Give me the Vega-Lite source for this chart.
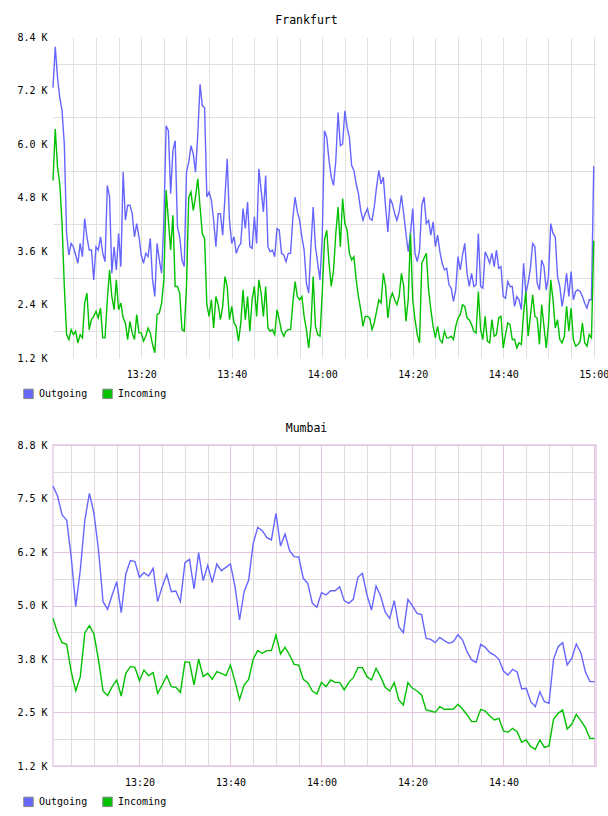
{
  "$schema": "https://vega.github.io/schema/vega-lite/v6.json",
  "background": "white",
  "padding": {"left": 15, "top": 14, "right": 0, "bottom": 8},
  "spacing": 20,
  "config": {
    "font": "DejaVu Sans Mono",
    "title": {"font": "DejaVu Sans Mono", "fontSize": 11.5, "fontWeight": "normal", "color": "#000000", "anchor": "middle", "baseline": "alphabetic", "offset": 6, "dx": -18},
    "axis": {"labelFont": "DejaVu Sans Mono", "labelFontSize": 10, "labelColor": "#000000", "ticks": false, "tickSize": 0, "domain": false, "title": null, "labelFlush": false, "labelOverlap": false, "gridWidth": 1},
    "axisY": {"labelPadding": 6},
    "axisX": {"labelPadding": 11},
    "line": {"strokeWidth": 1.4, "interpolate": "linear"}
  },
  "resolve": {"scale": {"x": "independent", "y": "independent", "color": "independent", "stroke": "independent"}, "legend": {"color": "independent"}},
  "vconcat": [
    {
      "title": {"text": "Frankfurt"},
      "width": 543,
      "height": 321,
      "view": {"stroke": null},
      "data": {
        "format": {"parse": {"t": "date:'%H:%M:%S'"}},
        "values": [
          {"t":"13:00:30","Outgoing":7264,"Incoming":5183},{"t":"13:01:00","Outgoing":8179,"Incoming":6335},{"t":"13:01:30","Outgoing":7487,"Incoming":5480},{"t":"13:02:00","Outgoing":7041,"Incoming":5108},
          {"t":"13:02:30","Outgoing":6744,"Incoming":4216},{"t":"13:03:00","Outgoing":6000,"Incoming":2804},{"t":"13:03:30","Outgoing":3993,"Incoming":1725},{"t":"13:04:00","Outgoing":3510,"Incoming":1614},
          {"t":"13:04:30","Outgoing":3770,"Incoming":1837},{"t":"13:05:00","Outgoing":3696,"Incoming":1725},{"t":"13:05:30","Outgoing":3510,"Incoming":1800},{"t":"13:06:00","Outgoing":3324,"Incoming":1540},
          {"t":"13:06:30","Outgoing":3770,"Incoming":1725},{"t":"13:07:00","Outgoing":3473,"Incoming":1651},{"t":"13:07:30","Outgoing":4328,"Incoming":2432},{"t":"13:08:00","Outgoing":3919,"Incoming":2655},
          {"t":"13:08:30","Outgoing":3621,"Incoming":1837},{"t":"13:09:00","Outgoing":3621,"Incoming":2060},{"t":"13:09:30","Outgoing":2952,"Incoming":2134},{"t":"13:10:00","Outgoing":3696,"Incoming":2246},
          {"t":"13:10:30","Outgoing":3621,"Incoming":2097},{"t":"13:11:00","Outgoing":3919,"Incoming":2320},{"t":"13:11:30","Outgoing":3547,"Incoming":1651},{"t":"13:12:00","Outgoing":3361,"Incoming":1651},
          {"t":"13:12:30","Outgoing":5071,"Incoming":2506},{"t":"13:13:00","Outgoing":4811,"Incoming":3175},{"t":"13:13:30","Outgoing":3101,"Incoming":2580},{"t":"13:14:00","Outgoing":3696,"Incoming":2283},
          {"t":"13:14:30","Outgoing":3175,"Incoming":2952},{"t":"13:15:00","Outgoing":3993,"Incoming":2283},{"t":"13:15:30","Outgoing":3250,"Incoming":2432},{"t":"13:16:00","Outgoing":5369,"Incoming":2097},
          {"t":"13:16:30","Outgoing":4290,"Incoming":1986},{"t":"13:17:00","Outgoing":4625,"Incoming":1614},{"t":"13:17:30","Outgoing":4625,"Incoming":2023},{"t":"13:18:00","Outgoing":4439,"Incoming":1763},
          {"t":"13:18:30","Outgoing":3919,"Incoming":1614},{"t":"13:19:00","Outgoing":4216,"Incoming":2172},{"t":"13:19:30","Outgoing":3919,"Incoming":1763},{"t":"13:20:00","Outgoing":3510,"Incoming":1763},
          {"t":"13:20:30","Outgoing":3324,"Incoming":1577},{"t":"13:21:00","Outgoing":3547,"Incoming":1688},{"t":"13:21:30","Outgoing":3473,"Incoming":1874},{"t":"13:22:00","Outgoing":3882,"Incoming":1763},
          {"t":"13:22:30","Outgoing":2952,"Incoming":1502},{"t":"13:23:00","Outgoing":2580,"Incoming":1317},{"t":"13:23:30","Outgoing":3770,"Incoming":2172},{"t":"13:24:00","Outgoing":3398,"Incoming":2209},
          {"t":"13:24:30","Outgoing":3101,"Incoming":2432},{"t":"13:25:00","Outgoing":4290,"Incoming":2952},{"t":"13:25:30","Outgoing":6409,"Incoming":4960},{"t":"13:26:00","Outgoing":6298,"Incoming":4290},
          {"t":"13:26:30","Outgoing":4885,"Incoming":3621},{"t":"13:27:00","Outgoing":5852,"Incoming":4402},{"t":"13:27:30","Outgoing":6075,"Incoming":2804},{"t":"13:28:00","Outgoing":4142,"Incoming":2804},
          {"t":"13:28:30","Outgoing":3919,"Incoming":2655},{"t":"13:29:00","Outgoing":3398,"Incoming":1837},{"t":"13:29:30","Outgoing":3250,"Incoming":1800},{"t":"13:30:00","Outgoing":5369,"Incoming":2804},
          {"t":"13:30:30","Outgoing":5592,"Incoming":4800},{"t":"13:31:00","Outgoing":5963,"Incoming":4922},{"t":"13:31:30","Outgoing":5777,"Incoming":4513},{"t":"13:32:00","Outgoing":5369,"Incoming":4811},
          {"t":"13:32:30","Outgoing":6224,"Incoming":5220},{"t":"13:33:00","Outgoing":7339,"Incoming":4588},{"t":"13:33:30","Outgoing":6856,"Incoming":3993},{"t":"13:34:00","Outgoing":6818,"Incoming":3882},
          {"t":"13:34:30","Outgoing":4811,"Incoming":2395},{"t":"13:35:00","Outgoing":4922,"Incoming":2134},{"t":"13:35:30","Outgoing":4737,"Incoming":2506},{"t":"13:36:00","Outgoing":4290,"Incoming":1874},
          {"t":"13:36:30","Outgoing":3696,"Incoming":2580},{"t":"13:37:00","Outgoing":4439,"Incoming":2395},{"t":"13:37:30","Outgoing":4439,"Incoming":2060},{"t":"13:38:00","Outgoing":3956,"Incoming":2357},
          {"t":"13:38:30","Outgoing":4811,"Incoming":3027},{"t":"13:39:00","Outgoing":5666,"Incoming":2804},{"t":"13:39:30","Outgoing":4290,"Incoming":2060},{"t":"13:40:00","Outgoing":3770,"Incoming":2357},
          {"t":"13:40:30","Outgoing":3919,"Incoming":1986},{"t":"13:41:00","Outgoing":3547,"Incoming":1911},{"t":"13:41:30","Outgoing":3696,"Incoming":1577},{"t":"13:42:00","Outgoing":3770,"Incoming":1986},
          {"t":"13:42:30","Outgoing":4551,"Incoming":2729},{"t":"13:43:00","Outgoing":4105,"Incoming":2060},{"t":"13:43:30","Outgoing":4699,"Incoming":2580},{"t":"13:44:00","Outgoing":3696,"Incoming":1800},
          {"t":"13:44:30","Outgoing":3658,"Incoming":2506},{"t":"13:45:00","Outgoing":4365,"Incoming":2804},{"t":"13:45:30","Outgoing":3770,"Incoming":2134},{"t":"13:46:00","Outgoing":5443,"Incoming":2952},
          {"t":"13:46:30","Outgoing":4960,"Incoming":2655},{"t":"13:47:00","Outgoing":4476,"Incoming":2134},{"t":"13:47:30","Outgoing":5294,"Incoming":2804},{"t":"13:48:00","Outgoing":3696,"Incoming":1874},
          {"t":"13:48:30","Outgoing":3584,"Incoming":1800},{"t":"13:49:00","Outgoing":3621,"Incoming":1837},{"t":"13:49:30","Outgoing":3473,"Incoming":1725},{"t":"13:50:00","Outgoing":4105,"Incoming":2283},
          {"t":"13:50:30","Outgoing":4067,"Incoming":2060},{"t":"13:51:00","Outgoing":3547,"Incoming":1800},{"t":"13:51:30","Outgoing":3510,"Incoming":1688},{"t":"13:52:00","Outgoing":3361,"Incoming":1800},
          {"t":"13:52:30","Outgoing":3547,"Incoming":1837},{"t":"13:53:00","Outgoing":3547,"Incoming":1837},{"t":"13:53:30","Outgoing":4328,"Incoming":2432},{"t":"13:54:00","Outgoing":4811,"Incoming":2915},
          {"t":"13:54:30","Outgoing":4476,"Incoming":2580},{"t":"13:55:00","Outgoing":4290,"Incoming":2506},{"t":"13:55:30","Outgoing":3919,"Incoming":2580},{"t":"13:56:00","Outgoing":3621,"Incoming":2134},
          {"t":"13:56:30","Outgoing":2878,"Incoming":1837},{"t":"13:57:00","Outgoing":2655,"Incoming":1428},{"t":"13:57:30","Outgoing":3696,"Incoming":1911},{"t":"13:58:00","Outgoing":4588,"Incoming":3027},
          {"t":"13:58:30","Outgoing":3696,"Incoming":1911},{"t":"13:59:00","Outgoing":3324,"Incoming":1725},{"t":"13:59:30","Outgoing":2952,"Incoming":1688},{"t":"14:00:00","Outgoing":3919,"Incoming":2655},
          {"t":"14:00:30","Outgoing":6298,"Incoming":3845},{"t":"14:01:00","Outgoing":6149,"Incoming":4067},{"t":"14:01:30","Outgoing":5629,"Incoming":3324},{"t":"14:02:00","Outgoing":5257,"Incoming":2804},
          {"t":"14:02:30","Outgoing":5071,"Incoming":3175},{"t":"14:03:00","Outgoing":5629,"Incoming":3993},{"t":"14:03:30","Outgoing":6707,"Incoming":4588},{"t":"14:04:00","Outgoing":5963,"Incoming":3696},
          {"t":"14:04:30","Outgoing":6000,"Incoming":4774},{"t":"14:05:00","Outgoing":6744,"Incoming":4216},{"t":"14:05:30","Outgoing":6372,"Incoming":4067},{"t":"14:06:00","Outgoing":6149,"Incoming":3547},
          {"t":"14:06:30","Outgoing":5517,"Incoming":3398},{"t":"14:07:00","Outgoing":5406,"Incoming":3473},{"t":"14:07:30","Outgoing":5108,"Incoming":2952},{"t":"14:08:00","Outgoing":4885,"Incoming":2580},
          {"t":"14:08:30","Outgoing":4513,"Incoming":2283},{"t":"14:09:00","Outgoing":4290,"Incoming":1911},{"t":"14:09:30","Outgoing":4439,"Incoming":2134},{"t":"14:10:00","Outgoing":4551,"Incoming":2134},
          {"t":"14:10:30","Outgoing":4328,"Incoming":2097},{"t":"14:11:00","Outgoing":4290,"Incoming":1837},{"t":"14:11:30","Outgoing":4588,"Incoming":1986},{"t":"14:12:00","Outgoing":5034,"Incoming":2246},
          {"t":"14:12:30","Outgoing":5406,"Incoming":2506},{"t":"14:13:00","Outgoing":5108,"Incoming":2432},{"t":"14:13:30","Outgoing":5257,"Incoming":3101},{"t":"14:14:00","Outgoing":4588,"Incoming":2804},
          {"t":"14:14:30","Outgoing":4030,"Incoming":2097},{"t":"14:15:00","Outgoing":4774,"Incoming":2506},{"t":"14:15:30","Outgoing":4662,"Incoming":2655},{"t":"14:16:00","Outgoing":4439,"Incoming":2506},
          {"t":"14:16:30","Outgoing":4290,"Incoming":2395},{"t":"14:17:00","Outgoing":4476,"Incoming":2580},{"t":"14:17:30","Outgoing":4848,"Incoming":3101},{"t":"14:18:00","Outgoing":4439,"Incoming":2804},
          {"t":"14:18:30","Outgoing":3993,"Incoming":2023},{"t":"14:19:00","Outgoing":3584,"Incoming":2506},{"t":"14:19:30","Outgoing":3993,"Incoming":3993},{"t":"14:20:00","Outgoing":4551,"Incoming":2506},
          {"t":"14:20:30","Outgoing":3547,"Incoming":2060},{"t":"14:21:00","Outgoing":3361,"Incoming":1725},{"t":"14:21:30","Outgoing":3621,"Incoming":1540},{"t":"14:22:00","Outgoing":4625,"Incoming":3324},
          {"t":"14:22:30","Outgoing":4811,"Incoming":3436},{"t":"14:23:00","Outgoing":4216,"Incoming":3547},{"t":"14:23:30","Outgoing":4290,"Incoming":2729},{"t":"14:24:00","Outgoing":3956,"Incoming":2283},
          {"t":"14:24:30","Outgoing":4253,"Incoming":1911},{"t":"14:25:00","Outgoing":3696,"Incoming":1651},{"t":"14:25:30","Outgoing":3956,"Incoming":1911},{"t":"14:26:00","Outgoing":3584,"Incoming":1614},
          {"t":"14:26:30","Outgoing":3324,"Incoming":1540},{"t":"14:27:00","Outgoing":3175,"Incoming":1800},{"t":"14:27:30","Outgoing":3212,"Incoming":1651},{"t":"14:28:00","Outgoing":2841,"Incoming":1651},
          {"t":"14:28:30","Outgoing":2766,"Incoming":1688},{"t":"14:29:00","Outgoing":2469,"Incoming":1614},{"t":"14:29:30","Outgoing":2729,"Incoming":1911},{"t":"14:30:00","Outgoing":3473,"Incoming":2097},
          {"t":"14:30:30","Outgoing":3175,"Incoming":2172},{"t":"14:31:00","Outgoing":3510,"Incoming":2395},{"t":"14:31:30","Outgoing":3770,"Incoming":2357},{"t":"14:32:00","Outgoing":3101,"Incoming":2097},
          {"t":"14:32:30","Outgoing":2804,"Incoming":2060},{"t":"14:33:00","Outgoing":3101,"Incoming":1949},{"t":"14:33:30","Outgoing":2804,"Incoming":1800},{"t":"14:34:00","Outgoing":2841,"Incoming":1763},
          {"t":"14:34:30","Outgoing":3993,"Incoming":2692},{"t":"14:35:00","Outgoing":2804,"Incoming":1837},{"t":"14:35:30","Outgoing":2766,"Incoming":1614},{"t":"14:36:00","Outgoing":3584,"Incoming":2134},
          {"t":"14:36:30","Outgoing":3473,"Incoming":1577},{"t":"14:37:00","Outgoing":3324,"Incoming":1540},{"t":"14:37:30","Outgoing":3547,"Incoming":2060},{"t":"14:38:00","Outgoing":3250,"Incoming":1688},
          {"t":"14:38:30","Outgoing":3621,"Incoming":1725},{"t":"14:39:00","Outgoing":3212,"Incoming":2097},{"t":"14:39:30","Outgoing":3250,"Incoming":2134},{"t":"14:40:00","Outgoing":2580,"Incoming":1428},
          {"t":"14:40:30","Outgoing":2543,"Incoming":1725},{"t":"14:41:00","Outgoing":2915,"Incoming":1986},{"t":"14:41:30","Outgoing":2804,"Incoming":1949},{"t":"14:42:00","Outgoing":2804,"Incoming":1614},
          {"t":"14:42:30","Outgoing":2357,"Incoming":1614},{"t":"14:43:00","Outgoing":2580,"Incoming":1428},{"t":"14:43:30","Outgoing":2506,"Incoming":1540},{"t":"14:44:00","Outgoing":2283,"Incoming":1502},
          {"t":"14:44:30","Outgoing":3324,"Incoming":2209},{"t":"14:45:00","Outgoing":2655,"Incoming":2692},{"t":"14:45:30","Outgoing":2878,"Incoming":1688},{"t":"14:46:00","Outgoing":3212,"Incoming":2134},
          {"t":"14:46:30","Outgoing":3770,"Incoming":2618},{"t":"14:47:00","Outgoing":3696,"Incoming":2134},{"t":"14:47:30","Outgoing":2878,"Incoming":2097},{"t":"14:48:00","Outgoing":2729,"Incoming":1502},
          {"t":"14:48:30","Outgoing":3398,"Incoming":2395},{"t":"14:49:00","Outgoing":3250,"Incoming":1911},{"t":"14:49:30","Outgoing":2729,"Incoming":1428},{"t":"14:50:00","Outgoing":3027,"Incoming":1949},
          {"t":"14:50:30","Outgoing":4216,"Incoming":2952},{"t":"14:51:00","Outgoing":3993,"Incoming":2506},{"t":"14:51:30","Outgoing":3919,"Incoming":1874},{"t":"14:52:00","Outgoing":3027,"Incoming":2060},
          {"t":"14:52:30","Outgoing":2804,"Incoming":1614},{"t":"14:53:00","Outgoing":2357,"Incoming":1540},{"t":"14:53:30","Outgoing":2655,"Incoming":1688},{"t":"14:54:00","Outgoing":3101,"Incoming":2357},
          {"t":"14:54:30","Outgoing":2580,"Incoming":1800},{"t":"14:55:00","Outgoing":3138,"Incoming":2320},{"t":"14:55:30","Outgoing":2506,"Incoming":1614},{"t":"14:56:00","Outgoing":2692,"Incoming":1465},
          {"t":"14:56:30","Outgoing":2729,"Incoming":1502},{"t":"14:57:00","Outgoing":2692,"Incoming":1577},{"t":"14:57:30","Outgoing":2580,"Incoming":1986},{"t":"14:58:00","Outgoing":2432,"Incoming":1540},
          {"t":"14:58:30","Outgoing":2320,"Incoming":1465},{"t":"14:59:00","Outgoing":2506,"Incoming":1725},{"t":"14:59:30","Outgoing":2506,"Incoming":1651},{"t":"15:00:00","Outgoing":5502,"Incoming":3830}
        ]
      },
      "transform": [{"fold": ["Outgoing", "Incoming"], "as": ["series", "bytes"]}],
      "encoding": {
        "x": {
          "field": "t", "type": "temporal",
          "scale": {"domain": [{"year": 1900, "month": 1, "date": 1, "hours": 13, "minutes": 0, "seconds": 30}, {"year": 1900, "month": 1, "date": 1, "hours": 15, "minutes": 0, "seconds": 30}], "nice": false},
          "axis": {
            "values": [
              {"year": 1900, "month": 1, "date": 1, "hours": 13, "minutes": 5}, {"year": 1900, "month": 1, "date": 1, "hours": 13, "minutes": 10}, {"year": 1900, "month": 1, "date": 1, "hours": 13, "minutes": 15}, {"year": 1900, "month": 1, "date": 1, "hours": 13, "minutes": 20},
              {"year": 1900, "month": 1, "date": 1, "hours": 13, "minutes": 25}, {"year": 1900, "month": 1, "date": 1, "hours": 13, "minutes": 30}, {"year": 1900, "month": 1, "date": 1, "hours": 13, "minutes": 35}, {"year": 1900, "month": 1, "date": 1, "hours": 13, "minutes": 40},
              {"year": 1900, "month": 1, "date": 1, "hours": 13, "minutes": 45}, {"year": 1900, "month": 1, "date": 1, "hours": 13, "minutes": 50}, {"year": 1900, "month": 1, "date": 1, "hours": 13, "minutes": 55}, {"year": 1900, "month": 1, "date": 1, "hours": 14, "minutes": 0},
              {"year": 1900, "month": 1, "date": 1, "hours": 14, "minutes": 5}, {"year": 1900, "month": 1, "date": 1, "hours": 14, "minutes": 10}, {"year": 1900, "month": 1, "date": 1, "hours": 14, "minutes": 15}, {"year": 1900, "month": 1, "date": 1, "hours": 14, "minutes": 20},
              {"year": 1900, "month": 1, "date": 1, "hours": 14, "minutes": 25}, {"year": 1900, "month": 1, "date": 1, "hours": 14, "minutes": 30}, {"year": 1900, "month": 1, "date": 1, "hours": 14, "minutes": 35}, {"year": 1900, "month": 1, "date": 1, "hours": 14, "minutes": 40},
              {"year": 1900, "month": 1, "date": 1, "hours": 14, "minutes": 45}, {"year": 1900, "month": 1, "date": 1, "hours": 14, "minutes": 50}, {"year": 1900, "month": 1, "date": 1, "hours": 14, "minutes": 55}, {"year": 1900, "month": 1, "date": 1, "hours": 15, "minutes": 0}
            ],
            "labelExpr": "minutes(datum.value) % 20 == 0 ? timeFormat(datum.value, '%H:%M') : ''",
            "grid": true, "gridColor": "#e0e0e0"
          }
        },
        "y": {
          "field": "bytes", "type": "quantitative",
          "scale": {"domain": [1200, 8400], "nice": false, "zero": false},
          "axis": {
            "values": [1200, 1800, 2400, 3000, 3600, 4200, 4800, 5400, 6000, 6600, 7200, 7800, 8400],
            "labelExpr": "datum.value % 1200 == 0 ? format(datum.value / 1000, '.1f') + ' K' : ''",
            "grid": true, "gridColor": "#e0e0e0",
            "gridOpacity": {"condition": {"test": "datum.value % 1200 == 0", "value": 0}, "value": 1}
          }
        }
      },
      "layer": [
        {
          "mark": {"type": "line", "strokeWidth": 1.4},
          "encoding": {
            "stroke": {"field": "series", "type": "nominal", "scale": {"domain": ["Incoming", "Outgoing"], "range": ["#00c000", "#6666ff"]}, "legend": null}
          }
        },
        {
          "mark": {"type": "square", "filled": true, "size": 0},
          "encoding": {
            "color": {
              "field": "series", "type": "nominal",
              "scale": {"domain": ["Outgoing", "Incoming"], "range": ["#6666ff", "#00c000"]},
              "legend": {
                "title": null, "orient": "none", "legendX": -30, "legendY": 351, "direction": "horizontal",
                "symbolType": "square", "symbolSize": 90, "symbolOpacity": 1, "symbolStrokeColor": "#8a8a8a", "symbolStrokeWidth": 1,
                "labelFont": "DejaVu Sans Mono", "labelFontSize": 10, "labelColor": "#000000", "labelOffset": 5, "columnPadding": 12, "padding": 0
              }
            }
          }
        }
      ]
    },
    {
      "title": {"text": "Mumbai"},
      "width": 543,
      "height": 321,
      "view": {"stroke": "#ecd8ec", "strokeWidth": 2},
      "data": {
        "format": {"parse": {"t": "date:'%H:%M'"}},
        "values": [
          {"t":"13:01","Outgoing":7829,"Incoming":4696},{"t":"13:02","Outgoing":7593,"Incoming":4357},{"t":"13:03","Outgoing":7143,"Incoming":4120},{"t":"13:04","Outgoing":7024,"Incoming":4081},
          {"t":"13:05","Outgoing":6156,"Incoming":3433},{"t":"13:06","Outgoing":4972,"Incoming":2976},{"t":"13:07","Outgoing":5840,"Incoming":3315},{"t":"13:08","Outgoing":7024,"Incoming":4357},
          {"t":"13:09","Outgoing":7656,"Incoming":4523},{"t":"13:10","Outgoing":7182,"Incoming":4325},{"t":"13:11","Outgoing":6314,"Incoming":3710},{"t":"13:12","Outgoing":5091,"Incoming":2976},
          {"t":"13:13","Outgoing":4909,"Incoming":2865},{"t":"13:14","Outgoing":5249,"Incoming":3078},{"t":"13:15","Outgoing":5564,"Incoming":3236},{"t":"13:16","Outgoing":4830,"Incoming":2857},
          {"t":"13:17","Outgoing":5746,"Incoming":3394},{"t":"13:18","Outgoing":6062,"Incoming":3552},{"t":"13:19","Outgoing":6038,"Incoming":3536},{"t":"13:20","Outgoing":5667,"Incoming":3220},
          {"t":"13:21","Outgoing":5777,"Incoming":3473},{"t":"13:22","Outgoing":5699,"Incoming":3339},{"t":"13:23","Outgoing":5880,"Incoming":3410},{"t":"13:24","Outgoing":5091,"Incoming":2920},
          {"t":"13:25","Outgoing":5446,"Incoming":3118},{"t":"13:26","Outgoing":5738,"Incoming":3339},{"t":"13:27","Outgoing":5328,"Incoming":3078},{"t":"13:28","Outgoing":5343,"Incoming":3063},
          {"t":"13:29","Outgoing":5091,"Incoming":2944},{"t":"13:30","Outgoing":6014,"Incoming":3670},{"t":"13:31","Outgoing":6093,"Incoming":3654},{"t":"13:32","Outgoing":5391,"Incoming":3118},
          {"t":"13:33","Outgoing":6251,"Incoming":3733},{"t":"13:34","Outgoing":5588,"Incoming":3315},{"t":"13:35","Outgoing":5951,"Incoming":3394},{"t":"13:36","Outgoing":5540,"Incoming":3252},
          {"t":"13:37","Outgoing":5983,"Incoming":3433},{"t":"13:38","Outgoing":5825,"Incoming":3394},{"t":"13:39","Outgoing":5904,"Incoming":3339},{"t":"13:40","Outgoing":5983,"Incoming":3591},
          {"t":"13:41","Outgoing":5446,"Incoming":3197},{"t":"13:42","Outgoing":4657,"Incoming":2778},{"t":"13:43","Outgoing":5328,"Incoming":3118},{"t":"13:44","Outgoing":5604,"Incoming":3252},
          {"t":"13:45","Outgoing":6472,"Incoming":3733},{"t":"13:46","Outgoing":6851,"Incoming":3931},{"t":"13:47","Outgoing":6772,"Incoming":3868},{"t":"13:48","Outgoing":6606,"Incoming":3931},
          {"t":"13:49","Outgoing":6551,"Incoming":3931},{"t":"13:50","Outgoing":7182,"Incoming":4302},{"t":"13:51","Outgoing":6409,"Incoming":3852},{"t":"13:52","Outgoing":6693,"Incoming":4010},
          {"t":"13:53","Outgoing":6298,"Incoming":3828},{"t":"13:54","Outgoing":6156,"Incoming":3607},{"t":"13:55","Outgoing":6149,"Incoming":3591},{"t":"13:56","Outgoing":5643,"Incoming":3252},
          {"t":"13:57","Outgoing":5525,"Incoming":3173},{"t":"13:58","Outgoing":5051,"Incoming":2976},{"t":"13:59","Outgoing":4957,"Incoming":2905},{"t":"14:00","Outgoing":5304,"Incoming":3181},
          {"t":"14:01","Outgoing":5249,"Incoming":3078},{"t":"14:02","Outgoing":5351,"Incoming":3236},{"t":"14:03","Outgoing":5351,"Incoming":3181},{"t":"14:04","Outgoing":5446,"Incoming":3181},
          {"t":"14:05","Outgoing":5115,"Incoming":3000},{"t":"14:06","Outgoing":5051,"Incoming":3181},{"t":"14:07","Outgoing":5146,"Incoming":3291},{"t":"14:08","Outgoing":5667,"Incoming":3528},
          {"t":"14:09","Outgoing":5762,"Incoming":3528},{"t":"14:10","Outgoing":5249,"Incoming":3315},{"t":"14:11","Outgoing":4893,"Incoming":3236},{"t":"14:12","Outgoing":5462,"Incoming":3512},
          {"t":"14:13","Outgoing":5225,"Incoming":3315},{"t":"14:14","Outgoing":4850,"Incoming":3063},{"t":"14:15","Outgoing":4696,"Incoming":2976},{"t":"14:16","Outgoing":5115,"Incoming":3173},
          {"t":"14:17","Outgoing":4499,"Incoming":2763},{"t":"14:18","Outgoing":4357,"Incoming":2644},{"t":"14:19","Outgoing":5146,"Incoming":3173},{"t":"14:20","Outgoing":4990,"Incoming":3039},
          {"t":"14:21","Outgoing":4815,"Incoming":2976},{"t":"14:22","Outgoing":4783,"Incoming":2881},{"t":"14:23","Outgoing":4223,"Incoming":2526},{"t":"14:24","Outgoing":4199,"Incoming":2502},
          {"t":"14:25","Outgoing":4120,"Incoming":2471},{"t":"14:26","Outgoing":4246,"Incoming":2605},{"t":"14:27","Outgoing":4167,"Incoming":2542},{"t":"14:28","Outgoing":4104,"Incoming":2542},
          {"t":"14:29","Outgoing":4144,"Incoming":2550},{"t":"14:30","Outgoing":4309,"Incoming":2660},{"t":"14:31","Outgoing":4183,"Incoming":2550},{"t":"14:32","Outgoing":3907,"Incoming":2408},
          {"t":"14:33","Outgoing":3710,"Incoming":2250},{"t":"14:34","Outgoing":3654,"Incoming":2250},{"t":"14:35","Outgoing":4081,"Incoming":2542},{"t":"14:36","Outgoing":4010,"Incoming":2502},
          {"t":"14:37","Outgoing":3883,"Incoming":2384},{"t":"14:38","Outgoing":3828,"Incoming":2289},{"t":"14:39","Outgoing":3725,"Incoming":2329},{"t":"14:40","Outgoing":3449,"Incoming":2029},
          {"t":"14:41","Outgoing":3355,"Incoming":1997},{"t":"14:42","Outgoing":3489,"Incoming":2092},{"t":"14:43","Outgoing":3426,"Incoming":2013},{"t":"14:44","Outgoing":3023,"Incoming":1760},
          {"t":"14:45","Outgoing":3039,"Incoming":1816},{"t":"14:46","Outgoing":2723,"Incoming":1658},{"t":"14:47","Outgoing":2605,"Incoming":1595},{"t":"14:48","Outgoing":2960,"Incoming":1816},
          {"t":"14:49","Outgoing":2723,"Incoming":1642},{"t":"14:50","Outgoing":2684,"Incoming":1674},{"t":"14:51","Outgoing":3725,"Incoming":2305},{"t":"14:52","Outgoing":4025,"Incoming":2447},
          {"t":"14:53","Outgoing":4120,"Incoming":2526},{"t":"14:54","Outgoing":3591,"Incoming":2076},{"t":"14:55","Outgoing":3749,"Incoming":2186},{"t":"14:56","Outgoing":4088,"Incoming":2423},
          {"t":"14:57","Outgoing":3883,"Incoming":2273},{"t":"14:58","Outgoing":3433,"Incoming":2108},{"t":"14:59","Outgoing":3197,"Incoming":1855},{"t":"15:00","Outgoing":3197,"Incoming":1855}
        ]
      },
      "transform": [{"fold": ["Outgoing", "Incoming"], "as": ["series", "bytes"]}],
      "encoding": {
        "x": {
          "field": "t", "type": "temporal",
          "scale": {"domain": [{"year": 1900, "month": 1, "date": 1, "hours": 13, "minutes": 1}, {"year": 1900, "month": 1, "date": 1, "hours": 15, "minutes": 0, "seconds": 20}], "nice": false},
          "axis": {
            "values": [
              {"year": 1900, "month": 1, "date": 1, "hours": 13, "minutes": 5}, {"year": 1900, "month": 1, "date": 1, "hours": 13, "minutes": 10}, {"year": 1900, "month": 1, "date": 1, "hours": 13, "minutes": 15}, {"year": 1900, "month": 1, "date": 1, "hours": 13, "minutes": 20},
              {"year": 1900, "month": 1, "date": 1, "hours": 13, "minutes": 25}, {"year": 1900, "month": 1, "date": 1, "hours": 13, "minutes": 30}, {"year": 1900, "month": 1, "date": 1, "hours": 13, "minutes": 35}, {"year": 1900, "month": 1, "date": 1, "hours": 13, "minutes": 40},
              {"year": 1900, "month": 1, "date": 1, "hours": 13, "minutes": 45}, {"year": 1900, "month": 1, "date": 1, "hours": 13, "minutes": 50}, {"year": 1900, "month": 1, "date": 1, "hours": 13, "minutes": 55}, {"year": 1900, "month": 1, "date": 1, "hours": 14, "minutes": 0},
              {"year": 1900, "month": 1, "date": 1, "hours": 14, "minutes": 5}, {"year": 1900, "month": 1, "date": 1, "hours": 14, "minutes": 10}, {"year": 1900, "month": 1, "date": 1, "hours": 14, "minutes": 15}, {"year": 1900, "month": 1, "date": 1, "hours": 14, "minutes": 20},
              {"year": 1900, "month": 1, "date": 1, "hours": 14, "minutes": 25}, {"year": 1900, "month": 1, "date": 1, "hours": 14, "minutes": 30}, {"year": 1900, "month": 1, "date": 1, "hours": 14, "minutes": 35}, {"year": 1900, "month": 1, "date": 1, "hours": 14, "minutes": 40},
              {"year": 1900, "month": 1, "date": 1, "hours": 14, "minutes": 45}, {"year": 1900, "month": 1, "date": 1, "hours": 14, "minutes": 50}, {"year": 1900, "month": 1, "date": 1, "hours": 14, "minutes": 55}, {"year": 1900, "month": 1, "date": 1, "hours": 15, "minutes": 0}
            ],
            "labelExpr": "minutes(datum.value) % 20 == 0 && hours(datum.value) < 15 ? timeFormat(datum.value, '%H:%M') : ''",
            "grid": true,
            "gridColor": {"condition": {"test": "minutes(datum.value) % 20 == 0", "value": "#e0c4e0"}, "value": "#e0dcdc"}
          }
        },
        "y": {
          "field": "bytes", "type": "quantitative",
          "scale": {"domain": [1200, 8800], "nice": false, "zero": false},
          "axis": {
            "values": [1200, 1833.333, 2466.667, 3100, 3733.333, 4366.667, 5000, 5633.333, 6266.667, 6900, 7533.333, 8166.667, 8800],
            "labelExpr": "datum.value < 1300 ? '1.2 K' : abs(datum.value - 2466.667) < 1 ? '2.5 K' : abs(datum.value - 3733.333) < 1 ? '3.8 K' : abs(datum.value - 5000) < 1 ? '5.0 K' : abs(datum.value - 6266.667) < 1 ? '6.2 K' : abs(datum.value - 7533.333) < 1 ? '7.5 K' : datum.value > 8700 ? '8.8 K' : ''",
            "grid": true,
            "gridColor": {"condition": {"test": "round((datum.value - 1200) / 633.3333) % 2 == 0", "value": "#e0c4e0"}, "value": "#e0dcdc"}
          }
        }
      },
      "layer": [
        {
          "mark": {"type": "line", "strokeWidth": 1.4},
          "encoding": {
            "stroke": {"field": "series", "type": "nominal", "scale": {"domain": ["Incoming", "Outgoing"], "range": ["#00c000", "#6666ff"]}, "legend": null}
          }
        },
        {
          "mark": {"type": "square", "filled": true, "size": 0},
          "encoding": {
            "color": {
              "field": "series", "type": "nominal",
              "scale": {"domain": ["Outgoing", "Incoming"], "range": ["#6666ff", "#00c000"]},
              "legend": {
                "title": null, "orient": "none", "legendX": -30, "legendY": 351, "direction": "horizontal",
                "symbolType": "square", "symbolSize": 90, "symbolOpacity": 1, "symbolStrokeColor": "#8a8a8a", "symbolStrokeWidth": 1,
                "labelFont": "DejaVu Sans Mono", "labelFontSize": 10, "labelColor": "#000000", "labelOffset": 5, "columnPadding": 12, "padding": 0
              }
            }
          }
        }
      ]
    }
  ]
}
